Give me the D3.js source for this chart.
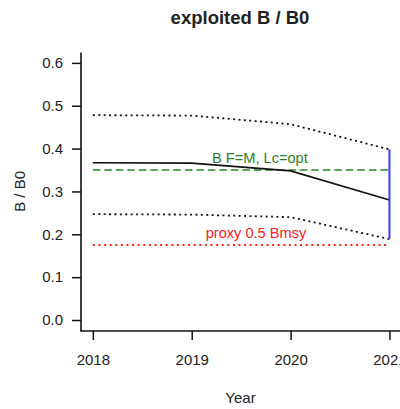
<!DOCTYPE html>
<html>
<head>
<meta charset="utf-8">
<script src="https://cdn.jsdelivr.net/npm/d3@7"></script>
<style>
  html, body { margin: 0; padding: 0; background: #fff; }
  svg { display: block; font-family: "Liberation Sans", Arial, sans-serif; }
</style>
</head>
<body>
<svg id="chart" width="400" height="409"></svg>
<script>
// ---- data ----
const years = [2018, 2019, 2020, 2021];
const bRatio = [0.367, 0.366, 0.348, 0.280];
const upperCI = [0.478, 0.477, 0.457, 0.398];
const lowerCI = [0.247, 0.246, 0.240, 0.189];
const refBFM = 0.35;            // B F=M, Lc=opt
const refHalfBmsy = 0.175;      // proxy 0.5 Bmsy
const yTicks = [0.0, 0.1, 0.2, 0.3, 0.4, 0.5, 0.6];
const xTicks = [2018, 2019, 2020, 2021];
const labels = {
  title: "exploited B / B0",
  xLab: "Year",
  yLab: "B / B0",
  bfm: "B F=M, Lc=opt",
  proxy: "proxy 0.5 Bmsy"
};

// ---- scales ----
const svg = d3.select("#chart");
const x = d3.scaleLinear().domain([2017.88, 2021.12]).range([81, 401.3]);
const y = d3.scaleLinear().domain([-0.024, 0.624]).range([330.3, 52.6]);
const textCol = "#222";

// title
svg.append("text").attr("x", 240).attr("y", 23.5)
  .attr("text-anchor", "middle").attr("font-size", "18.5px").attr("font-weight", "bold")
  .attr("fill", textCol).text(labels.title);

// y axis
const yAxis = d3.axisLeft(y).tickValues(yTicks).tickFormat(d3.format(".1f")).tickSize(9).tickPadding(9);
const gy = svg.append("g").attr("transform", "translate(81,0)").call(yAxis);
gy.select(".domain").attr("d", `M0,${y.range()[1]}V${y.range()[0] + 0.7}`)
  .attr("stroke", "#111").attr("stroke-width", 1.6);
gy.selectAll(".tick line").attr("stroke", "#111").attr("stroke-width", 1.5);
gy.selectAll(".tick text").attr("font-size", "15px").attr("fill", textCol)
  .attr("font-family", "Liberation Sans, Arial, sans-serif");

// x axis
const xAxis = d3.axisBottom(x).tickValues(xTicks).tickFormat(d3.format("d")).tickSize(9).tickPadding(14);
const gx = svg.append("g").attr("transform", "translate(0,331)").call(xAxis);
gx.select(".domain").attr("d", `M${x.range()[0] - 0.8},0H${x.range()[1]}`)
  .attr("stroke", "#111").attr("stroke-width", 1.6);
gx.selectAll(".tick line").attr("stroke", "#111").attr("stroke-width", 1.5);
gx.selectAll(".tick text").attr("font-size", "15px").attr("fill", textCol)
  .attr("font-family", "Liberation Sans, Arial, sans-serif");

// axis titles
svg.append("text").attr("x", 240.5).attr("y", 403).attr("text-anchor", "middle")
  .attr("font-size", "15px").attr("fill", textCol).text(labels.xLab);
svg.append("text").attr("transform", `translate(25,${y(0.3)}) rotate(-90)`)
  .attr("text-anchor", "middle").attr("font-size", "15px").attr("fill", textCol).text(labels.yLab);

const line = d3.line().x(d => x(d[0])).y(d => y(d[1]));
const xr = [years[0], years[years.length - 1]];

// reference lines
svg.append("path").datum(xr.map(v => [v, refBFM])).attr("d", line)
  .attr("fill", "none").attr("stroke", "#228B22").attr("stroke-width", 1.6)
  .attr("stroke-dasharray", "7.5 4");
svg.append("path").datum(xr.map(v => [v, refHalfBmsy])).attr("d", line)
  .attr("fill", "none").attr("stroke", "#ff2020").attr("stroke-width", 1.8)
  .attr("stroke-dasharray", "2 3.6");

// CI dotted lines
[upperCI, lowerCI].forEach(arr => {
  svg.append("path").datum(years.map((yr, i) => [yr, arr[i]])).attr("d", line)
    .attr("fill", "none").attr("stroke", "#111").attr("stroke-width", 1.8)
    .attr("stroke-dasharray", "2 3.4");
});

// main line
svg.append("path").datum(years.map((yr, i) => [yr, bRatio[i]])).attr("d", line)
  .attr("fill", "none").attr("stroke", "#111").attr("stroke-width", 1.6);

// blue vertical CI at final year
const last = years.length - 1;
svg.append("line")
  .attr("x1", x(years[last])).attr("x2", x(years[last]))
  .attr("y1", y(lowerCI[last])).attr("y2", y(upperCI[last]))
  .attr("stroke", "#3a3aff").attr("stroke-width", 2);

// reference labels
svg.append("text").attr("x", x(2019.69)).attr("y", y(refBFM) - 7)
  .attr("text-anchor", "middle").attr("font-size", "14.6px").attr("fill", "#2f7d1f").text(labels.bfm);
svg.append("text").attr("x", x(2019.65)).attr("y", y(refHalfBmsy) - 7.5)
  .attr("text-anchor", "middle").attr("font-size", "14.6px").attr("fill", "#ff2020").text(labels.proxy);
</script>
</body>
</html>
